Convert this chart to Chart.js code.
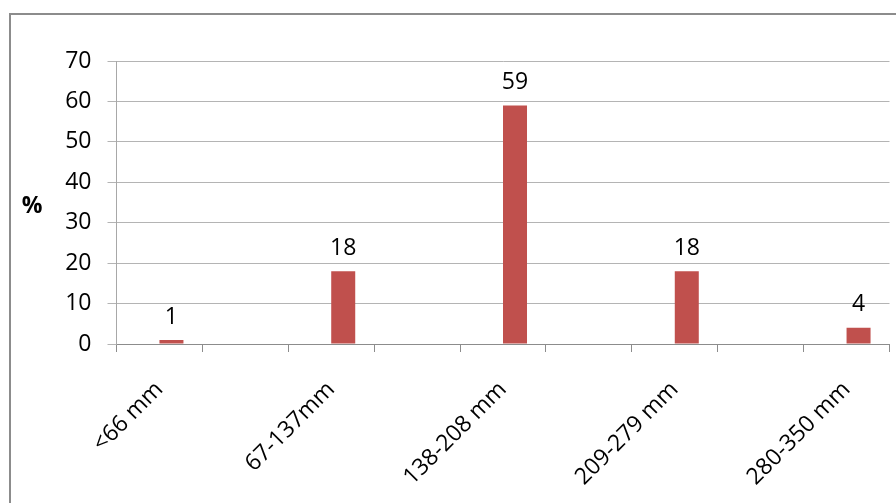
<!DOCTYPE html>
<html>
<head>
<meta charset="utf-8">
<script src="https://cdn.jsdelivr.net/npm/chart.js@4.4.1/dist/chart.umd.min.js"></script>
<style>
  html, body { margin: 0; padding: 0; background: #ffffff; }
  #wrap { position: relative; width: 896px; height: 503px; overflow: hidden; }
  #frame { position: absolute; left: 9px; top: 13px; width: 900px; height: 500px;
           border: 2px solid #8c8c8c; box-sizing: border-box; }
  canvas { position: absolute; left: 0; top: 0; }
</style>
</head>
<body>
<div id="wrap">
  <div id="frame"></div>
  <canvas id="c" width="896" height="503"></canvas>
</div>
<script>
// Rainfall classes and the share (%) of observations falling in each
const categories = ['<66 mm', '67-137mm', '138-208 mm', '209-279 mm', '280-350 mm'];
const shares = [1, 18, 59, 18, 4];
const yMin = 0, yMax = 70, yStep = 10;
const unitLabel = '%';

// The axis carries a blank slot between each class; build the slot arrays from the lists above
const slotLabels = [];
const slotValues = [];
categories.forEach((c, i) => {
  slotLabels.push(c);
  slotValues.push(shares[i]);
  if (i < categories.length - 1) { slotLabels.push(''); slotValues.push(null); }
});
const emptySeries = slotLabels.map(() => null);

const FONT = '"Open Sans", sans-serif';

// Value above each bar, plus the unit label left of the value axis
const valueLabels = {
  id: 'valueLabels',
  afterDatasetsDraw(chart) {
    const ctx = chart.ctx;
    const meta = chart.getDatasetMeta(1);
    ctx.save();
    ctx.font = '23px ' + FONT;
    ctx.fillStyle = '#000';
    ctx.textAlign = 'center';
    ctx.textBaseline = 'middle';
    meta.data.forEach((bar, i) => {
      const v = chart.data.datasets[1].data[i];
      if (v === null || v === undefined) return;
      ctx.fillText(String(v), bar.x, bar.y - 23);
    });
    const yScale = chart.scales.y;
    ctx.font = 'bold 23px ' + FONT;
    ctx.fillText(unitLabel, 32, (yScale.top + yScale.bottom) / 2 + 4);
    ctx.restore();
  }
};

new Chart(document.getElementById('c'), {
  type: 'bar',
  data: {
    labels: slotLabels,
    datasets: [
      { label: 'blank', data: emptySeries, backgroundColor: '#4F81BD' },
      { label: unitLabel, data: slotValues, backgroundColor: '#C0504D', borderWidth: 0 }
    ]
  },
  options: {
    responsive: false,
    animation: false,
    devicePixelRatio: 1,
    layout: { padding: { top: 61, right: 6.5, bottom: 0, left: 0 } },
    categoryPercentage: 0.559,
    barPercentage: 1,
    plugins: { legend: { display: false }, tooltip: { enabled: false } },
    scales: {
      x: {
        grid: { drawOnChartArea: false, color: '#8c8c8c', tickLength: 8 },
        border: { color: '#8c8c8c', width: 1 },
        ticks: {
          autoSkip: false, minRotation: 45, maxRotation: 45,
          color: '#000', font: { family: FONT, size: 23 }, padding: 24
        },
        afterFit(scale) { scale.height = 159; }
      },
      y: {
        min: yMin, max: yMax,
        grid: { color: '#b4b4b4', tickLength: 9 },
        border: { color: '#a8a8a8', width: 1 },
        ticks: {
          stepSize: yStep, color: '#000',
          font: { family: FONT, size: 23 }, padding: 16
        },
        afterFit(scale) { scale.width = 116.5; }
      }
    }
  },
  plugins: [valueLabels]
});
</script>
</body>
</html>
